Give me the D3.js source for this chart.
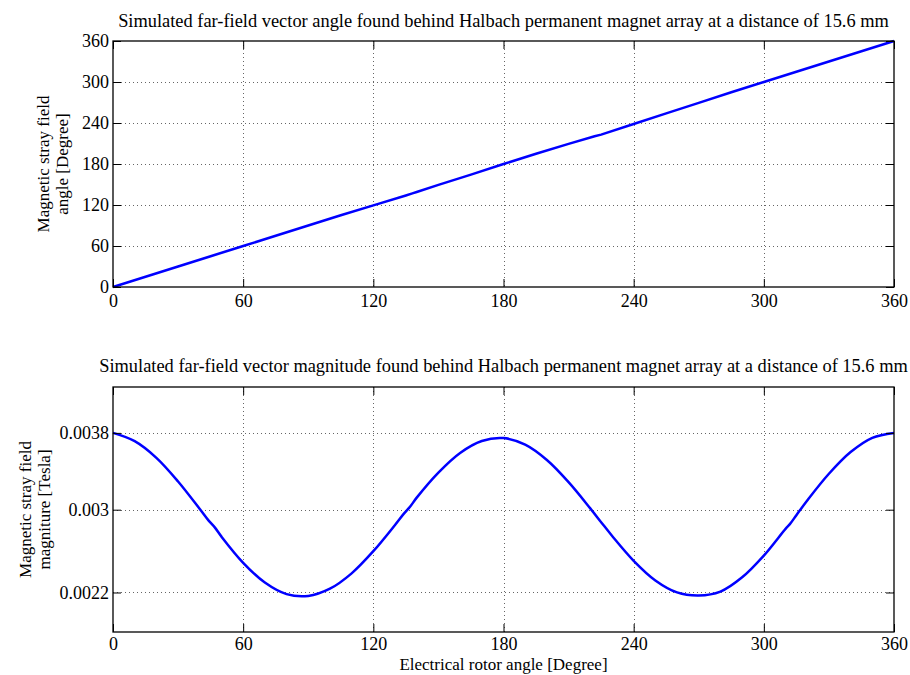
<!DOCTYPE html>
<html>
<head>
<meta charset="utf-8">
<script src="https://cdn.jsdelivr.net/npm/d3@7"></script>
<style>
  html, body { margin: 0; padding: 0; background: #fff; }
  svg { display: block; }
  text { font-family: "Liberation Serif", "Times New Roman", serif; fill: #000; }
</style>
</head>
<body>
<svg id="chart" width="910" height="675"></svg>
<script>
// ---------- data ----------
const titleTop = "Simulated far-field vector angle found behind Halbach permanent magnet array at a distance of 15.6 mm";
const titleBottom = "Simulated far-field vector magnitude found behind Halbach permanent magnet array at a distance of 15.6 mm";
const yLabelTop = ["Magnetic stray field", "angle [Degree]"];
const yLabelBottom = ["Magnetic stray field", "magniture [Tesla]"];
const xLabel = "Electrical rotor angle [Degree]";

const xTicks = [0, 60, 120, 180, 240, 300, 360];
const yTicksTop = [0, 60, 120, 180, 240, 300, 360];
const yTickValuesBottom = [0.0022, 0.00303, 0.0038];
const yTickLabelsBottom = ["0.0022", "0.003", "0.0038"];

const angleX = [0, 15, 30, 45, 60, 75, 90, 105, 120, 135, 138, 140, 150, 165, 180, 195, 210, 222, 225, 240, 255, 270, 285, 300, 315, 330, 345, 360];
const angleY = [0, 15, 30, 45, 60, 75, 90, 105, 119.5, 134, 137, 139, 149.5, 164.5, 180, 195, 209.5, 220.5, 223, 238.5, 254, 269.5, 285, 300, 315, 330, 345, 360];

const magX = [0, 10, 20, 30, 40, 44, 47, 50, 60, 70, 80, 90,
              100, 110, 120, 130, 134, 137, 140, 150, 160, 170, 180,
              190, 200, 210, 220, 225, 230, 240, 250, 260, 270,
              280, 290, 300, 310, 312, 315, 320, 330, 340, 350, 360];
const magY = [0.003800, 0.003717, 0.003550, 0.003313, 0.003037, 0.002923, 0.002850, 0.002760, 0.002498, 0.002300, 0.002184, 0.002166,
              0.002238, 0.002392, 0.002614, 0.002877, 0.002988, 0.003062, 0.003151, 0.003402, 0.003599, 0.003719, 0.003748,
              0.003682, 0.003528, 0.003306, 0.003043, 0.002905, 0.002769, 0.002518, 0.002321, 0.002201, 0.002170,
              0.002209, 0.002352, 0.002570, 0.002838, 0.002885, 0.002975, 0.003122, 0.003390, 0.003608, 0.003751, 0.003800];

// ---------- layout ----------
const svg = d3.select("#chart");
const left = 113, right = 894;
const panels = [
  { top: 41, bottom: 287, domain: [0, 360], ticks: yTicksTop, labels: yTicksTop.map(String),
    title: titleTop, ylab: yLabelTop, ylabX: 43, xs: angleX, ys: angleY, titleY: 27, xTickY: 307 },
  { top: 387, bottom: 632, domain: [0.001804, 0.00426], ticks: yTickValuesBottom, labels: yTickLabelsBottom,
    title: titleBottom, ylab: yLabelBottom, ylabX: 25, xs: magX, ys: magY, titleY: 372, xTickY: 650 }
];

const x = d3.scaleLinear().domain([0, 360]).range([left, right]);
const tickLen = 8;

panels.forEach((p, pi) => {
  const y = d3.scaleLinear().domain(p.domain).range([p.bottom, p.top]);
  const g = svg.append("g");

  // grid
  const grid = g.append("g").attr("stroke", "#666").attr("stroke-width", 1)
    .attr("stroke-dasharray", "1,3").attr("fill", "none");
  xTicks.forEach(t => {
    if (t === 0 || t === 360) return;
    grid.append("line").attr("x1", Math.round(x(t)) + 0.5).attr("x2", Math.round(x(t)) + 0.5)
      .attr("y1", p.top).attr("y2", p.bottom);
  });
  p.ticks.forEach(t => {
    const yy = y(t);
    if (Math.abs(yy - p.top) < 1 || Math.abs(yy - p.bottom) < 1) return;
    grid.append("line").attr("x1", left).attr("x2", right)
      .attr("y1", Math.round(yy) + 0.5).attr("y2", Math.round(yy) + 0.5);
  });

  // line
  const lineGen = d3.line().x((d, i) => x(p.xs[i])).y((d, i) => y(p.ys[i]))
    .curve(pi === 0 ? d3.curveLinear : d3.curveCatmullRom.alpha(0.5));
  g.append("path").datum(p.xs).attr("d", lineGen)
    .attr("fill", "none").attr("stroke", "#0000ff").attr("stroke-width", 2.5)
    .attr("stroke-linejoin", "round");

  // axes with inward ticks
  const axB = d3.axisBottom(x).tickValues(xTicks).tickSizeInner(-tickLen).tickSizeOuter(0).tickPadding(12).tickFormat(d3.format("d"));
  const axT = d3.axisTop(x).tickValues(xTicks).tickSizeInner(-tickLen).tickSizeOuter(0).tickFormat("");
  const axL = d3.axisLeft(y).tickValues(p.ticks).tickSizeInner(-tickLen).tickSizeOuter(0).tickPadding(4)
    .tickFormat((d, i) => p.labels[i]);
  const axR = d3.axisRight(y).tickValues(p.ticks).tickSizeInner(-tickLen).tickSizeOuter(0).tickFormat("");

  const gb = g.append("g").attr("transform", `translate(0,${p.bottom})`).call(axB);
  const gt = g.append("g").attr("transform", `translate(0,${p.top})`).call(axT);
  const gl = g.append("g").attr("transform", `translate(${left},0)`).call(axL);
  const gr = g.append("g").attr("transform", `translate(${right},0)`).call(axR);
  [gb, gt, gl, gr].forEach(a => {
    a.attr("font-family", "Liberation Serif, serif");
    a.select(".domain").remove();
    a.selectAll(".tick line").attr("stroke", "#000").attr("stroke-width", 1);
    a.selectAll("text").attr("font-family", "Liberation Serif, serif").attr("font-size", 18).attr("fill", "#000");
  });
  gb.selectAll("text").attr("dy", null).attr("y", null)
    .attr("transform", `translate(0,${p.xTickY - p.bottom})`);
  gl.selectAll("text").attr("dy", "0.33em");

  // box
  g.append("rect").attr("x", left).attr("y", p.top).attr("width", right - left).attr("height", p.bottom - p.top)
    .attr("fill", "none").attr("stroke", "#000").attr("stroke-width", 1.3);

  // title
  g.append("text").attr("x", (left + right) / 2).attr("y", p.titleY).attr("text-anchor", "middle")
    .attr("font-size", 18.4).text(p.title);

  // y label (two lines, rotated)
  const cy = (p.top + p.bottom) / 2;
  const yl = g.append("text").attr("transform", `translate(${p.ylabX},${cy}) rotate(-90)`)
    .attr("text-anchor", "middle").attr("font-size", 17);
  p.ylab.forEach((s, i) => {
    yl.append("tspan").attr("x", 0).attr("dy", i === 0 ? "0.33em" : 19).text(s);
  });
});

svg.append("text").attr("x", (left + right) / 2).attr("y", 669.5).attr("text-anchor", "middle")
  .attr("font-size", 17).text(xLabel);
</script>
</body>
</html>
